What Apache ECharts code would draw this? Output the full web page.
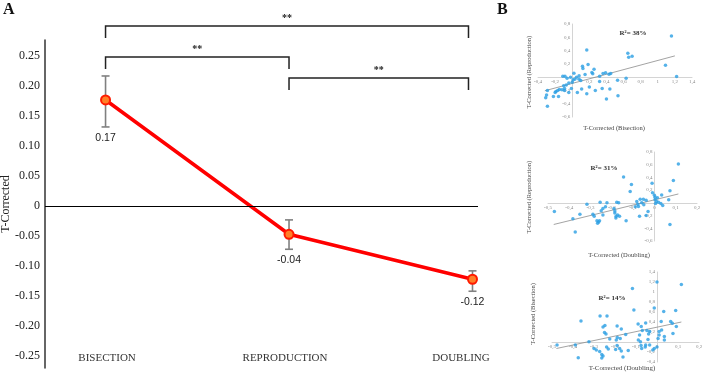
<!DOCTYPE html>
<html><head><meta charset="utf-8">
<script src="https://cdn.jsdelivr.net/npm/echarts@6/dist/echarts.min.js"></script>
<style>html,body{margin:0;padding:0;background:#fff}#c{width:704px;height:382px}</style>
</head><body><div id="c"></div>
<script>
// ---------- Panel A data ----------
const categories = ['BISECTION', 'REPRODUCTION', 'DOUBLING'];
const means = [0.177, -0.047, -0.122];
const errLow = [0.132, -0.072, -0.142];
const errHigh = [0.217, -0.023, -0.108];
const valueLabels = ['0.17', '-0.04', '-0.12'];
const yTicks = [-0.25, -0.2, -0.15, -0.1, -0.05, 0, 0.05, 0.1, 0.15, 0.2, 0.25];
const comparisons = [[0, 2, '**'], [0, 1, '**'], [1, 2, '**']];

// ---------- Panel B data ----------
const scatterBisRep = [[1.16,0.62],[0.17,0.41],[0.65,0.36],[0.66,0.30],[0.70,0.315],[1.09,0.18],[1.22,0.01],
[0.12,0.165],[0.125,0.13],[0.185,0.19],[0.255,0.12],[0.23,0.07],[0.24,0.05],[0.36,0.055],[0.39,0.065],[0.43,0.045],
[0.45,0.055],[0.15,0.04],[0.08,0.02],[0.05,0.0],[0.03,-0.03],[-0.02,0.0],[-0.085,0.015],[-0.11,0.015],[-0.06,-0.015],
[0.01,-0.04],[0.53,-0.045],[0.63,-0.015],[0.32,0.015],[0.32,-0.065],[0.35,-0.17],[0.44,-0.18],[0.40,-0.33],[0.535,-0.28],
[0.27,-0.2],[0.2,-0.15],[0.17,-0.25],[0.11,-0.18],[0.06,-0.23],[-0.01,-0.17],[-0.07,-0.12],[-0.09,-0.17],[-0.09,-0.2],
[-0.04,-0.23],[-0.12,-0.19],[-0.15,-0.185],[-0.17,-0.2],[-0.19,-0.215],[-0.22,-0.29],[-0.16,-0.29],[-0.29,-0.2],
[-0.30,-0.27],[-0.31,-0.31],[-0.29,-0.44],[-0.04,-0.09],[0.0,-0.075],[0.08,-0.03],[0.1,-0.05],[0.02,0.06],[-0.1,-0.13],[-0.2,-0.23]];
const trendBisRep = [[-0.32,-0.205],[1.2,0.32]];

const scatterDouRep = [[0.1125,0.61],[0.089,0.35],[-0.011,0.31],[-0.145,0.405],[-0.108,0.29],[-0.114,0.18],[0.073,0.19],
[-0.009,0.16],[0.0,0.12],[0.003,0.09],[0.034,0.125],[-0.067,0.057],[-0.052,0.057],[-0.039,0.04],[-0.083,0.02],[-0.078,-0.02],
[-0.075,-0.057],[-0.07,-0.21],[-0.039,-0.2],[-0.03,-0.135],[-0.05,-0.03],[0.003,0.05],[0.01,0.02],[0.019,0.01],[0.03,-0.01],
[0.039,-0.04],[0.005,-0.01],[0.014,0.08],[0.067,0.047],[0.073,-0.34],[-0.177,0.01],[-0.168,0.0],[-0.255,0.01],[-0.317,-0.02],
[-0.223,0.0],[-0.23,-0.06],[-0.242,-0.09],[-0.25,-0.125],[-0.289,-0.18],[-0.283,-0.21],[-0.27,-0.28],[-0.262,-0.3],
[-0.267,-0.32],[-0.258,-0.28],[-0.242,-0.19],[-0.19,-0.09],[-0.186,-0.13],[-0.186,-0.16],[-0.18,-0.21],[-0.181,-0.24],
[-0.173,-0.19],[-0.164,-0.21],[-0.133,-0.28],[-0.35,-0.18],[-0.383,-0.25],[-0.372,-0.457],[-0.47,-0.135],[-0.09,-0.06],[-0.06,0.0]];
const trendDouRep = [[-0.473,-0.34],[0.1125,0.14]];

const scatterDouBis = [[0.0,1.2],[0.116,1.15],[-0.117,1.07],[-0.11,0.64],[-0.013,0.68],[0.032,0.61],[0.089,0.63],
[-0.362,0.42],[-0.271,0.52],[-0.238,0.52],[-0.248,0.33],[-0.257,0.30],[-0.25,0.19],[-0.243,0.16],[-0.19,0.32],[-0.17,0.26],
[-0.175,0.07],[-0.189,0.09],[-0.194,0.04],[-0.149,0.15],[-0.225,0.06],[-0.324,0.007],[-0.389,-0.06],[-0.476,-0.06],
[-0.375,-0.315],[-0.3,-0.13],[-0.289,-0.16],[-0.273,-0.19],[-0.263,-0.25],[-0.263,-0.32],[-0.257,-0.28],[-0.24,-0.1],
[-0.232,-0.14],[-0.19,-0.07],[-0.178,-0.13],[-0.197,-0.15],[-0.17,-0.18],[-0.162,-0.3],[-0.137,-0.17],[-0.09,0.36],
[-0.07,0.23],[-0.054,0.38],[-0.075,0.31],[-0.048,0.23],[-0.035,0.21],[-0.04,0.16],[-0.083,0.14],[-0.089,0.04],
[-0.079,0.005],[-0.076,-0.07],[-0.073,-0.13],[-0.056,-0.1],[-0.054,-0.06],[-0.043,0.05],[-0.035,-0.06],[0.01,0.21],
[0.01,0.14],[0.005,0.07],[0.022,0.24],[0.02,0.41],[0.065,0.41],[0.073,0.375],[0.092,0.31],[0.076,0.17],[0.035,0.11],
[0.035,0.04],[-0.013,-0.13],[0.0,-0.1],[-0.02,-0.16]];
const trendDouBis = [[-0.479,-0.13],[0.116,0.40]];

const rSquared = ['38%', '31%', '14%'];

// ---------- build ----------
const chart = echarts.init(document.getElementById('c'));
const SERIF = '"Liberation Serif", "DejaVu Serif", serif';
const bracketLevels = [26, 57, 78];

const gridA = { left: 45, top: 40, width: 433, height: 328 };
const scatterGrids = [
  { left: 538, top: 24, width: 154, height: 93 },
  { left: 548, top: 152, width: 149, height: 89 },
  { left: 552, top: 272, width: 147, height: 90 }
];

function commaFmt(v) { const r = Math.round(v * 10) / 10; return String(r).replace('.', ','); }

// axes cross at zero: place them with an offset from the grid edges
function scatterAxes(gi, g, xr, yr) {
  const common = {
    gridIndex: gi, type: 'value', splitLine: { show: false }, axisTick: { show: false },
    axisLine: { onZero: false, lineStyle: { color: '#d4d4d4', width: 1 } },
    axisLabel: { fontSize: 5, color: '#8a8a8a', margin: 2, fontFamily: SERIF }
  };
  const xOff = -g.height * (0 - yr[0]) / (yr[1] - yr[0]);
  const yOff = -g.width * (0 - xr[0]) / (xr[1] - xr[0]);
  return {
    x: Object.assign({}, common, { min: xr[0], max: xr[1], interval: xr[2], position: 'bottom', offset: xOff,
      axisLabel: Object.assign({}, common.axisLabel, { formatter: v => commaFmt(v) }) }),
    y: Object.assign({}, common, { min: yr[0], max: yr[1], interval: yr[2], position: 'left', offset: yOff,
      axisLabel: Object.assign({}, common.axisLabel, { formatter: v => (Math.abs(v) < 1e-9 ? '' : commaFmt(v)) }) })
  };
}
const s1 = scatterAxes(1, scatterGrids[0], [-0.4, 1.4, 0.2], [-0.6, 0.8, 0.2]);
const s2 = scatterAxes(2, scatterGrids[1], [-0.5, 0.2, 0.1], [-0.6, 0.8, 0.2]);
const s3 = scatterAxes(3, scatterGrids[2], [-0.5, 0.2, 0.1], [-0.4, 1.4, 0.2]);

function scatterSeries(idx, pts, trend) {
  return [
    { type: 'line', xAxisIndex: idx, yAxisIndex: idx, data: trend, symbol: 'none', silent: true,
      lineStyle: { color: '#8c8c8c', width: 0.8 }, z: 2 },
    { type: 'scatter', xAxisIndex: idx, yAxisIndex: idx, data: pts, symbol: 'circle', symbolSize: 3.5,
      itemStyle: { color: '#2a9fe3' }, z: 3 }
  ];
}

const gridOpts = g => Object.assign({ outerBoundsMode: 'none', containLabel: false }, g);

const option = {
  animation: false,
  backgroundColor: '#fff',
  grid: [gridOpts(gridA)].concat(scatterGrids.map(gridOpts)),
  xAxis: [
    { gridIndex: 0, type: 'value', min: -0.33, max: 2.03, offset: -16,
      axisLine: { show: false, onZero: false }, axisTick: { show: false }, splitLine: { show: false },
      axisLabel: { customValues: [0, 1, 2], margin: 1,
        formatter: v => '{c' + v + '|' + categories[v] + '}',
        rich: {
          c0: { fontFamily: SERIF, fontSize: 11, color: '#333', padding: [0, 0, 0, 3] },
          c1: { fontFamily: SERIF, fontSize: 11, color: '#333', padding: [0, 8, 0, 0] },
          c2: { fontFamily: SERIF, fontSize: 11, color: '#333', padding: [0, 23, 0, 0] }
        },
        fontFamily: SERIF, fontSize: 11, color: '#333' } },
    s1.x, s2.x, s3.x
  ],
  yAxis: [
    { gridIndex: 0, type: 'value', min: -0.27, max: 0.277,
      axisLine: { show: true, onZero: false, lineStyle: { color: '#333', width: 1.5 } },
      axisTick: { show: false }, splitLine: { show: false },
      axisLabel: { customValues: yTicks, formatter: v => (Math.abs(v) < 1e-9 ? '0' : v.toFixed(2)),
        margin: 5, fontFamily: SERIF, fontSize: 12, color: '#222' },
      name: 'T-Corrected', nameLocation: 'middle', nameGap: 33, nameMoveOverlap: false,
      nameTextStyle: { fontFamily: SERIF, fontSize: 12, color: '#222' } },
    s1.y, s2.y, s3.y
  ],
  series: [
    { type: 'custom', xAxisIndex: 0, yAxisIndex: 0, z: 1, silent: true,
      data: means.map((m, i) => [i, errLow[i], errHigh[i]]),
      renderItem(params, api) {
        const x = api.value(0);
        const pLo = api.coord([x, api.value(1)]), pHi = api.coord([x, api.value(2)]);
        const cap = 4, st = { stroke: '#808080', lineWidth: 1.6 };
        return { type: 'group', children: [
          { type: 'line', shape: { x1: pLo[0], y1: pLo[1], x2: pHi[0], y2: pHi[1] }, style: st },
          { type: 'line', shape: { x1: pLo[0] - cap, y1: pLo[1], x2: pLo[0] + cap, y2: pLo[1] }, style: st },
          { type: 'line', shape: { x1: pHi[0] - cap, y1: pHi[1], x2: pHi[0] + cap, y2: pHi[1] }, style: st },
          { type: 'text', x: pLo[0], y: pLo[1] + 11, style: { text: valueLabels[params.dataIndex],
            align: 'center', verticalAlign: 'middle', font: '10.5px "Liberation Sans", sans-serif', fill: '#222' } }
        ] };
      }
    },
    { type: 'custom', xAxisIndex: 0, yAxisIndex: 0, z: 1, silent: true, clip: false,
      data: comparisons.map((c, i) => [c[0], c[1], i]),
      renderItem(params, api) {
        const last = categories.length - 1;
        const a = api.coord([api.value(0), 0])[0];
        const b = api.coord([api.value(1), 0])[0] - (api.value(1) === last ? 4 : 0);
        const lv = bracketLevels[api.value(2)];
        return { type: 'group', children: [
          { type: 'polyline', shape: { points: [[a, lv + 12], [a, lv], [b, lv], [b, lv + 12]] },
            style: { stroke: '#222', lineWidth: 1.5, fill: null } },
          { type: 'text', x: (a + b) / 2, y: lv - 8, style: { text: comparisons[params.dataIndex][2],
            align: 'center', verticalAlign: 'middle', font: 'bold 10px ' + SERIF, fill: '#222' } }
        ] };
      }
    },
    { type: 'line', xAxisIndex: 0, yAxisIndex: 0, z: 3,
      data: means.map((m, i) => [i, m]),
      lineStyle: { color: '#ff0000', width: 3.5 },
      symbol: 'circle', symbolSize: 9,
      itemStyle: { color: '#ff7f27', borderColor: '#ff1a00', borderWidth: 2 },
      markLine: { silent: true, symbol: ['none', 'none'], label: { show: false },
        lineStyle: { color: '#000', width: 1.2, type: 'solid' }, data: [{ yAxis: 0 }] }
    },
    ...scatterSeries(1, scatterBisRep, trendBisRep),
    ...scatterSeries(2, scatterDouRep, trendDouRep),
    ...scatterSeries(3, scatterDouBis, trendDouBis)
  ],
  graphic: [
    { type: 'text', left: 3, top: 2, style: { text: 'A', font: 'bold 16px ' + SERIF, fill: '#111' } },
    { type: 'text', left: 497, top: 2, style: { text: 'B', font: 'bold 16px ' + SERIF, fill: '#111' } },
    { type: 'text', x: 633, y: 33, style: { text: 'R²= ' + rSquared[0], font: 'bold 7px ' + SERIF, fill: '#333', align: 'center', verticalAlign: 'middle' } },
    { type: 'text', x: 604, y: 168, style: { text: 'R²= ' + rSquared[1], font: 'bold 7px ' + SERIF, fill: '#333', align: 'center', verticalAlign: 'middle' } },
    { type: 'text', x: 612, y: 298, style: { text: 'R²= ' + rSquared[2], font: 'bold 7px ' + SERIF, fill: '#333', align: 'center', verticalAlign: 'middle' } },
    { type: 'text', x: 614, y: 128, style: { text: 'T-Corrected (Bisection)', font: '6.5px ' + SERIF, fill: '#444', align: 'center', verticalAlign: 'middle' } },
    { type: 'text', x: 619, y: 255, style: { text: 'T-Corrected (Doubling)', font: '6.5px ' + SERIF, fill: '#444', align: 'center', verticalAlign: 'middle' } },
    { type: 'text', x: 622, y: 368, style: { text: 'T-Corrected (Doubling)', font: '7px ' + SERIF, fill: '#444', align: 'center', verticalAlign: 'middle' } },
    { type: 'text', x: 529, y: 72, rotation: Math.PI / 2, style: { text: 'T-Corrected (Reproduction)', font: '6.5px ' + SERIF, fill: '#444', align: 'center', verticalAlign: 'middle' } },
    { type: 'text', x: 529, y: 197, rotation: Math.PI / 2, style: { text: 'T-Corrected (Reproduction)', font: '6.5px ' + SERIF, fill: '#444', align: 'center', verticalAlign: 'middle' } },
    { type: 'text', x: 533, y: 314, rotation: Math.PI / 2, style: { text: 'T-Corrected (Bisection)', font: '6.5px ' + SERIF, fill: '#444', align: 'center', verticalAlign: 'middle' } }
  ]
};
chart.setOption(option);
</script>
</body></html>
